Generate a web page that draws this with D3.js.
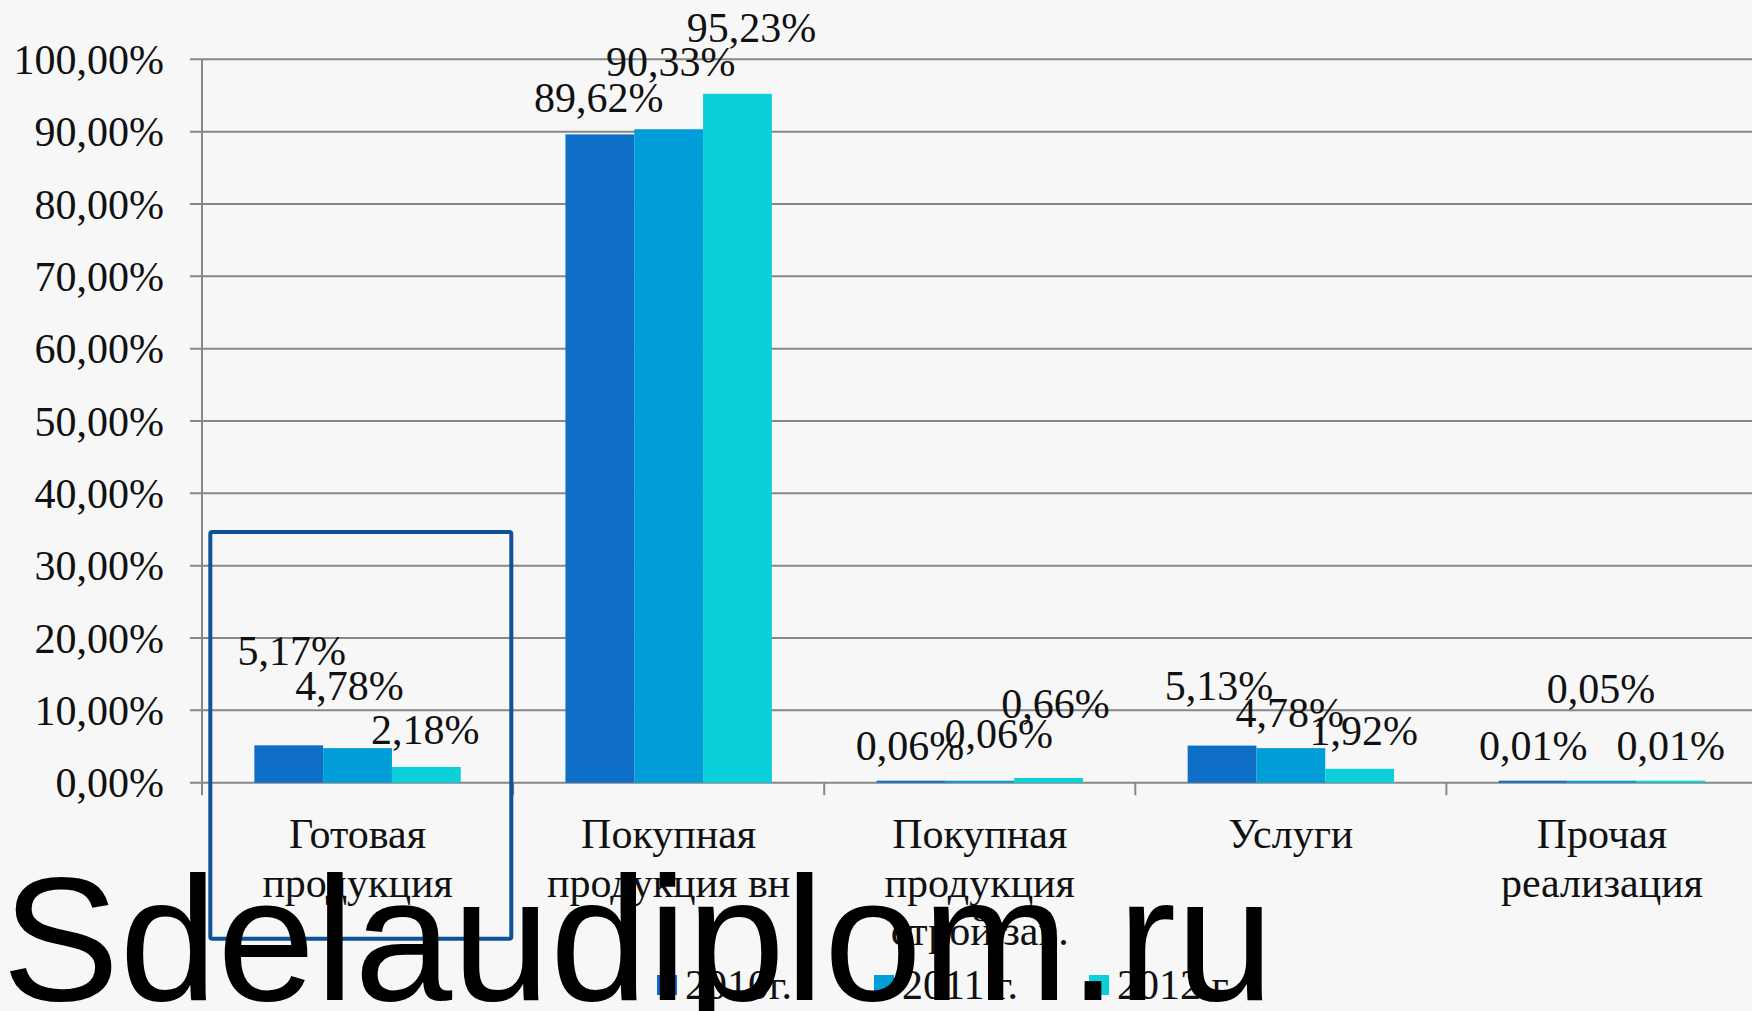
<!DOCTYPE html>
<html>
<head>
<meta charset="utf-8">
<script src="https://cdn.jsdelivr.net/npm/d3@7"></script>
<style>
  html, body { margin: 0; padding: 0; background: #f7f7f7; }
  svg { display: block; }
</style>
</head>
<body>
<svg id="chart" width="1752" height="1011"></svg>
<script>
// ---- data ----
const categories = [
  ["Готовая", "продукция"],
  ["Покупная", "продукция вн"],
  ["Покупная", "продукция", "строй зав."],
  ["Услуги"],
  ["Прочая", "реализация"]
];
const seriesNames = ["2010г.", "2011 г.", "2012 г."];
const values2010 = [5.17, 89.62, 0.06, 5.13, 0.01];
const values2011 = [4.78, 90.33, 0.06, 4.78, 0.05];
const values2012 = [2.18, 95.23, 0.66, 1.92, 0.01];
const yTicks = [0, 10, 20, 30, 40, 50, 60, 70, 80, 90, 100];
const watermark = "Sdelaudiplom.ru";

// ---- layout / style constants ----
const W = 1752, H = 1011;
const colors = ["#0F6FC6", "#009DD9", "#0BD0D9"];
// manual label nudges [dx, dy] per series per category (as placed in original)
const labelNudges = [
  [[3, -58], [-1, 0], [-1, 0], [-3, -24], [0, -1]],
  [[-8, -26], [2, -31], [19, -12], [-1, 1], [-1, -57]],
  [[-1, -1], [14, -30], [7, -38], [4, -2], [0, -1]]
];
const FONT = "'Liberation Serif', 'Times New Roman', serif";
const FS = 42;

const svg = d3.select("#chart");
svg.append("rect").attr("width", W).attr("height", H).attr("fill", "#f7f7f7");

const x0 = 202, step = 311.1;
const x = d3.scaleBand().domain(d3.range(categories.length))
  .range([x0, x0 + step * categories.length]).padding(0);
const xs = d3.scaleBand().domain(d3.range(seriesNames.length))
  .range([0, x.bandwidth()]).paddingInner(0).paddingOuter(0.761);
const y = d3.scaleLinear().domain([0, 100]).range([782.7, 59.3]);

const locale = d3.formatLocale({decimal: ",", thousands: " ", grouping: [3], currency: ["", ""], percent: "%"});
const fmt = locale.format(".2f");
const pct = v => fmt(v) + "%";

// gridlines
svg.append("g").selectAll("line").data(yTicks).join("line")
  .attr("x1", 190).attr("x2", W + 10)
  .attr("y1", d => y(d)).attr("y2", d => y(d))
  .attr("stroke", "#878787").attr("stroke-width", 2);

// y axis line
svg.append("line").attr("x1", x0).attr("x2", x0)
  .attr("y1", y(100)).attr("y2", y(0) + 12.5)
  .attr("stroke", "#878787").attr("stroke-width", 2);

// category tick marks
svg.append("g").selectAll("line").data(d3.range(1, categories.length)).join("line")
  .attr("x1", d => x(d)).attr("x2", d => x(d))
  .attr("y1", y(0)).attr("y2", y(0) + 12.5)
  .attr("stroke", "#878787").attr("stroke-width", 2);

// y tick labels
svg.append("g").selectAll("text").data(yTicks).join("text")
  .attr("x", 164).attr("y", d => y(d) + 14.7)
  .attr("text-anchor", "end")
  .attr("font-family", FONT).attr("font-size", FS).attr("fill", "#111")
  .text(d => pct(d));

// bars
const allSeries = [values2010, values2011, values2012];
const bars = [];
allSeries.forEach((vals, s) => vals.forEach((v, c) => bars.push({s, c, v})));

svg.append("g").selectAll("rect").data(bars).join("rect")
  .attr("x", d => x(d.c) + xs(d.s))
  .attr("width", xs.bandwidth())
  .attr("y", d => Math.min(y(d.v), y(0) - 2))
  .attr("height", d => Math.max(y(0) - y(d.v), 2))
  .attr("fill", d => colors[d.s]);

// data labels
svg.append("g").selectAll("text").data(bars).join("text")
  .attr("x", d => x(d.c) + xs(d.s) + xs.bandwidth() / 2 + labelNudges[d.s][d.c][0])
  .attr("y", d => y(d.v) - 22 + labelNudges[d.s][d.c][1])
  .attr("text-anchor", "middle")
  .attr("font-family", FONT).attr("font-size", FS).attr("fill", "#111")
  .text(d => pct(d.v));

// category labels
const catG = svg.append("g").selectAll("text").data(categories).join("text")
  .attr("text-anchor", "middle")
  .attr("font-family", FONT).attr("font-size", FS).attr("fill", "#111");
catG.selectAll("tspan").data((d, i) => d.map(line => ({line, i}))).join("tspan")
  .attr("x", d => x(d.i) + x.bandwidth() / 2)
  .attr("y", (d, j) => 848 + j * 48.5)
  .text(d => d.line);

// legend
const legendX = [657, 874, 1089];
const lg = svg.append("g").selectAll("g").data(seriesNames).join("g")
  .attr("transform", (d, i) => `translate(${legendX[i]},975)`);
lg.append("rect").attr("width", 20).attr("height", 20).attr("fill", (d, i) => colors[i]);
lg.append("text").attr("x", 28).attr("y", 24)
  .attr("font-family", FONT).attr("font-size", FS).attr("fill", "#111")
  .text(d => d);

// highlight box
svg.append("rect")
  .attr("x", 210.3).attr("y", 532).attr("width", 301).attr("height", 406.7)
  .attr("rx", 2)
  .attr("fill", "none").attr("stroke", "#0D5396").attr("stroke-width", 4);

// watermark
svg.append("text").attr("x", 2).attr("y", 1000)
  .attr("font-family", "'Liberation Sans', Arial, sans-serif")
  .attr("font-size", 176).attr("fill", "#000")
  .text(watermark);
</script>
</body>
</html>
